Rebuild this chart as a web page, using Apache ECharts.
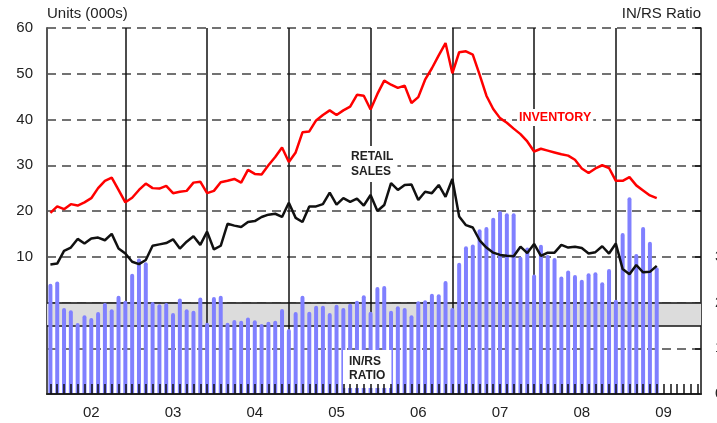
<!DOCTYPE html>
<html>
<head>
<meta charset="utf-8">
<script src="https://cdn.jsdelivr.net/npm/echarts@6/dist/echarts.min.js"></script>
<style>
  html, body { margin: 0; padding: 0; background: #fff; }
  #chart { width: 717px; height: 423px; }
</style>
</head>
<body>
<div id="chart"></div>
<script>
// monthly, Jan 2002 .. Jun 2009, axis runs to Dec 2009
const years = ['02', '03', '04', '05', '06', '07', '08', '09']

const inventory = [
  19.6, 21.0, 20.4, 21.5, 21.2, 21.9, 22.8, 25.0, 26.6, 27.3, 24.6, 21.9,
  22.9, 24.6, 26.0, 25.0, 24.9, 25.5, 23.9, 24.2, 24.4, 26.2, 26.4, 23.9,
  24.4, 26.3, 26.6, 27.0, 26.2, 29.0, 28.1, 28.0, 30.0, 31.8, 33.9, 30.7,
  32.8, 37.2, 37.4, 39.8, 41.0, 42.0, 41.0, 42.0, 42.8, 45.4, 45.2, 42.2,
  45.6, 48.5, 47.6, 46.9, 47.4, 43.6, 44.9, 48.7, 51.2, 54.0, 56.7, 50.1,
  54.7, 54.9, 54.2, 49.8, 45.2, 42.3, 40.3, 39.3, 38.0, 36.8, 35.2, 33.0,
  33.6, 33.2, 32.8, 32.4, 32.1, 31.2, 29.3, 28.3, 29.3, 30.0, 29.4, 26.6,
  26.6, 27.4, 25.6, 24.5, 23.4, 22.8
]

const retailSales = [
  8.3, 8.5, 11.3, 12.0, 13.9, 12.9, 14.0, 14.2, 13.6, 15.0, 11.8, 10.7,
  8.9, 8.4, 9.3, 12.4, 12.7, 13.0, 13.8, 11.8, 13.3, 14.5, 12.6, 15.5,
  11.6, 12.4, 17.2, 16.8, 16.5, 17.6, 17.8, 18.7, 19.2, 19.4, 18.7, 21.8,
  18.5, 17.6, 21.0, 21.0, 21.5, 24.0, 21.4, 22.8, 22.0, 22.7, 21.2, 23.5,
  20.0, 21.3, 26.1, 24.6, 25.7, 25.8, 22.4, 24.2, 23.9, 25.7, 23.1, 27.0,
  18.8, 16.9, 16.4, 13.6, 12.0, 10.9, 10.4, 10.2, 10.1, 12.2, 10.8, 12.8,
  10.2, 10.9, 10.9, 12.6, 12.0, 12.2, 11.9, 10.7, 11.0, 12.3, 10.7, 12.9,
  7.3, 6.2, 8.2, 6.6, 6.7, 8.0
]

const inrsRatio = [
  2.41, 2.46, 1.88, 1.83, 1.55, 1.72, 1.66, 1.79, 1.99, 1.85, 2.15, 2.04,
  2.63, 2.96, 2.88, 2.01, 1.96, 1.99, 1.77, 2.09, 1.85, 1.82, 2.11, 1.56,
  2.12, 2.15, 1.56, 1.62, 1.60, 1.67, 1.61, 1.53, 1.58, 1.60, 1.86, 1.42,
  1.79, 2.15, 1.80, 1.93, 1.93, 1.77, 1.95, 1.88, 1.97, 2.04, 2.16, 1.80,
  2.34, 2.36, 1.82, 1.92, 1.88, 1.72, 2.03, 2.05, 2.19, 2.18, 2.47, 1.88,
  2.87, 3.23, 3.27, 3.60, 3.65, 3.85, 4.00, 3.95, 3.95, 3.00, 3.20, 2.61,
  3.26, 3.04, 2.97, 2.57, 2.70, 2.60, 2.50, 2.64, 2.66, 2.44, 2.73, 2.06,
  3.52, 4.30, 3.06, 3.65, 3.33, 2.77
]

// shaded band (left axis units) and right axis labels that peek past the edge
const band = [-5, 0]
const rightLabels = [0, 1, 2, 3]

const months = []
years.forEach(y => { for (let m = 1; m <= 12; m++) months.push(y + '-' + m) })
const decembers = months.filter(m => m.endsWith('-12')).slice(0, 7)

const font = 'Liberation Sans, Arial, sans-serif'
const chart = echarts.init(document.getElementById('chart'))

chart.setOption({
  animation: false,
  grid: { left: 47, right: 16, top: 28, bottom: 29, outerBoundsMode: 'none', containLabel: false },
  xAxis: {
    type: 'category',
    data: months,
    boundaryGap: true,
    z: 10,
    axisLine: { show: true, onZero: false, lineStyle: { color: '#222', width: 2 } },
    axisTick: {
      show: true, inside: true, length: 10, interval: 0, alignWithLabel: true,
      lineStyle: { color: '#111', width: 1.5 }
    },
    axisLabel: {
      interval: i => i % 12 === 6,
      formatter: v => v.split('-')[0],
      margin: 11, fontSize: 15, color: '#222', fontFamily: font
    },
    splitLine: { show: false }
  },
  yAxis: [
    {
      type: 'value', min: -20, max: 60, interval: 10,
      name: 'Units (000s)', nameLocation: 'end', nameGap: 7,
      nameTextStyle: { align: 'left', fontSize: 15, color: '#222', fontFamily: font },
      axisLine: { show: true, onZero: false, lineStyle: { color: '#555', width: 2 } },
      axisTick: { show: false },
      axisLabel: {
        formatter: v => (v > 0 ? String(v) : ''),
        margin: 14, fontSize: 15, color: '#222', fontFamily: font
      },
      splitLine: { show: true, lineStyle: { color: '#444', width: 1.5, type: [9, 6] } }
    },
    {
      type: 'value', min: 0, max: 8, interval: 1, position: 'right',
      name: 'IN/RS Ratio', nameLocation: 'end', nameGap: 7,
      nameTextStyle: { align: 'right', fontSize: 15, color: '#222', fontFamily: font },
      axisLine: { show: true, onZero: false, lineStyle: { color: '#111', width: 1.5 } },
      axisTick: { show: true, inside: true, length: 6, lineStyle: { color: '#111', width: 1.5 } },
      axisLabel: {
        formatter: v => (rightLabels.includes(v) ? String(v) : ''),
        margin: 14, fontSize: 15, color: '#222', fontFamily: font
      },
      splitLine: { show: false }
    }
  ],
  series: [
    {
      // carrier for the shaded band, reference lines and December markers
      type: 'line', yAxisIndex: 0, z: 1, silent: true,
      data: inventory, showSymbol: false,
      lineStyle: { opacity: 0 },
      markArea: {
        silent: true, z: 1,
        itemStyle: { color: '#dcdcdc' },
        data: [[{ yAxis: band[0] }, { yAxis: band[1] }]]
      },
      markLine: {
        silent: true, z: 2, symbol: 'none', label: { show: false },
        lineStyle: { color: '#111', width: 1.5, type: 'solid' },
        data: [
          ...decembers.map(m => ({ xAxis: m })),
          { yAxis: band[0] }, { yAxis: band[1] }
        ]
      }
    },
    {
      name: 'IN/RS Ratio', type: 'bar', yAxisIndex: 1, z: 5,
      data: inrsRatio, barWidth: 4,
      itemStyle: { color: '#8080ff', borderRadius: [2, 2, 0, 0] }
    },
    {
      name: 'Inventory', type: 'line', yAxisIndex: 0, z: 6,
      data: inventory, showSymbol: false,
      lineStyle: { color: '#ff0000', width: 2.5 }
    },
    {
      name: 'Retail Sales', type: 'line', yAxisIndex: 0, z: 6,
      data: retailSales, showSymbol: false,
      lineStyle: { color: '#111', width: 2.5 }
    }
  ],
  graphic: [
    {
      type: 'text', left: 517, top: 109, z: 10,
      style: {
        text: 'INVENTORY', fill: '#ff0000', font: 'bold 12.5px ' + font,
        backgroundColor: '#fff', padding: [2, 2]
      }
    },
    {
      type: 'text', left: 347, top: 146, z: 10,
      style: {
        text: 'RETAIL\nSALES', fill: '#222', font: 'bold 12px ' + font,
        align: 'center', lineHeight: 15, backgroundColor: '#fff', padding: [3, 4]
      }
    },
    {
      type: 'text', left: 343, top: 350, z: 10,
      style: {
        text: 'IN/RS\nRATIO', fill: '#222', font: 'bold 12px ' + font,
        align: 'center', lineHeight: 14, backgroundColor: '#fff', padding: [5, 6]
      }
    }
  ]
})
</script>
</body>
</html>
